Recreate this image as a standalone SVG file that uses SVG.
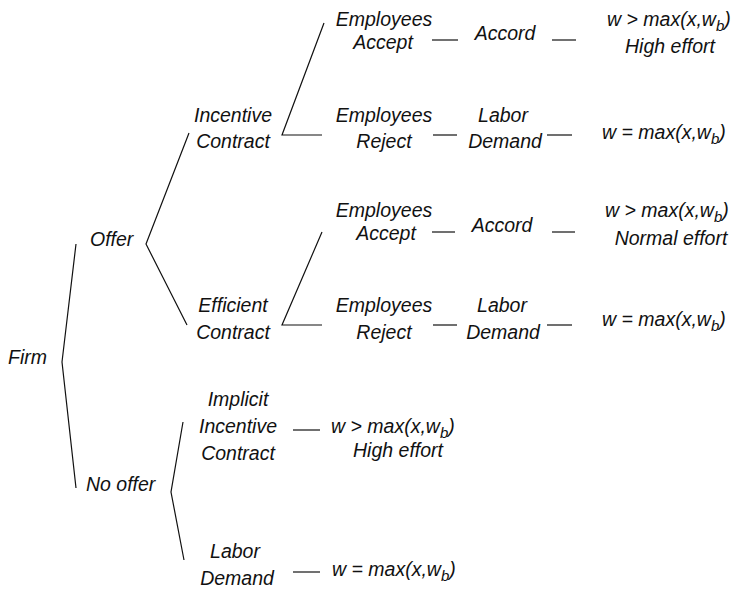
<svg xmlns="http://www.w3.org/2000/svg" width="741" height="597" viewBox="0 0 741 597">
<style>
text{font-family:"Liberation Sans",Arial,sans-serif;font-style:italic;font-size:19.5px;fill:#111}
.m{text-anchor:middle}
.sub{font-size:15px}
#connectors line,#connectors polyline{stroke:#111;stroke-width:1.2;fill:none}
</style>
<rect width="741" height="597" fill="#fff"/>
<g id="connectors">
<polyline points="76,244 62,362 76,488"/>
<polyline points="189,133 146,244 187,325"/>
<polyline points="324,23 282,135 322,135"/>
<polyline points="322,232 282,325 322,325"/>
<polyline points="183,422 171,492 184,560"/>
<line x1="432" y1="40" x2="458" y2="40"/>
<line x1="552" y1="40" x2="576" y2="40"/>
<line x1="433" y1="135" x2="457" y2="135"/>
<line x1="547" y1="135" x2="572" y2="135"/>
<line x1="432" y1="232" x2="455" y2="232"/>
<line x1="552" y1="232" x2="575" y2="232"/>
<line x1="433" y1="325" x2="457" y2="325"/>
<line x1="547" y1="325" x2="572" y2="325"/>
<line x1="293" y1="430" x2="320" y2="430"/>
<line x1="293" y1="572" x2="320" y2="572"/>
</g>
<g id="firm"><text x="8" y="364">Firm</text></g>
<g id="offer"><text x="90" y="246">Offer</text></g>
<g id="no-offer"><text x="86" y="491">No offer</text></g>
<g id="incentive-contract"><text class="m" x="233" y="122">Incentive</text><text class="m" x="233" y="148">Contract</text></g>
<g id="efficient-contract"><text class="m" x="233" y="312">Efficient</text><text class="m" x="233" y="339">Contract</text></g>
<g id="accept-1"><text class="m" x="384" y="26">Employees</text><text class="m" x="383" y="49">Accept</text></g>
<g id="accord-1"><text class="m" x="505" y="40">Accord</text></g>
<g id="outcome-1"><text x="607" y="26">w &gt; max(x,w<tspan class="sub" dy="5">b</tspan><tspan dy="-5">)</tspan></text><text class="m" x="670" y="53">High effort</text></g>
<g id="reject-1"><text class="m" x="384" y="122">Employees</text><text class="m" x="384" y="148">Reject</text></g>
<g id="labor-demand-1"><text class="m" x="503" y="122">Labor</text><text class="m" x="505" y="148">Demand</text></g>
<g id="outcome-2"><text x="602" y="139">w = max(x,w<tspan class="sub" dy="5">b</tspan><tspan dy="-5">)</tspan></text></g>
<g id="accept-2"><text class="m" x="384" y="217">Employees</text><text class="m" x="386" y="240">Accept</text></g>
<g id="accord-2"><text class="m" x="502" y="232">Accord</text></g>
<g id="outcome-3"><text x="605" y="217">w &gt; max(x,w<tspan class="sub" dy="5">b</tspan><tspan dy="-5">)</tspan></text><text class="m" x="671" y="245">Normal effort</text></g>
<g id="reject-2"><text class="m" x="384" y="312">Employees</text><text class="m" x="384" y="339">Reject</text></g>
<g id="labor-demand-2"><text class="m" x="502" y="312">Labor</text><text class="m" x="503" y="339">Demand</text></g>
<g id="outcome-4"><text x="602" y="326">w = max(x,w<tspan class="sub" dy="5">b</tspan><tspan dy="-5">)</tspan></text></g>
<g id="implicit-incentive-contract"><text class="m" x="238" y="406">Implicit</text><text class="m" x="238" y="433">Incentive</text><text class="m" x="238" y="460">Contract</text></g>
<g id="outcome-5"><text x="331" y="433">w &gt; max(x,w<tspan class="sub" dy="5">b</tspan><tspan dy="-5">)</tspan></text><text class="m" x="398" y="457">High effort</text></g>
<g id="labor-demand-3"><text class="m" x="235" y="558">Labor</text><text class="m" x="237" y="585">Demand</text></g>
<g id="outcome-6"><text x="332" y="576">w = max(x,w<tspan class="sub" dy="5">b</tspan><tspan dy="-5">)</tspan></text></g>
</svg>
